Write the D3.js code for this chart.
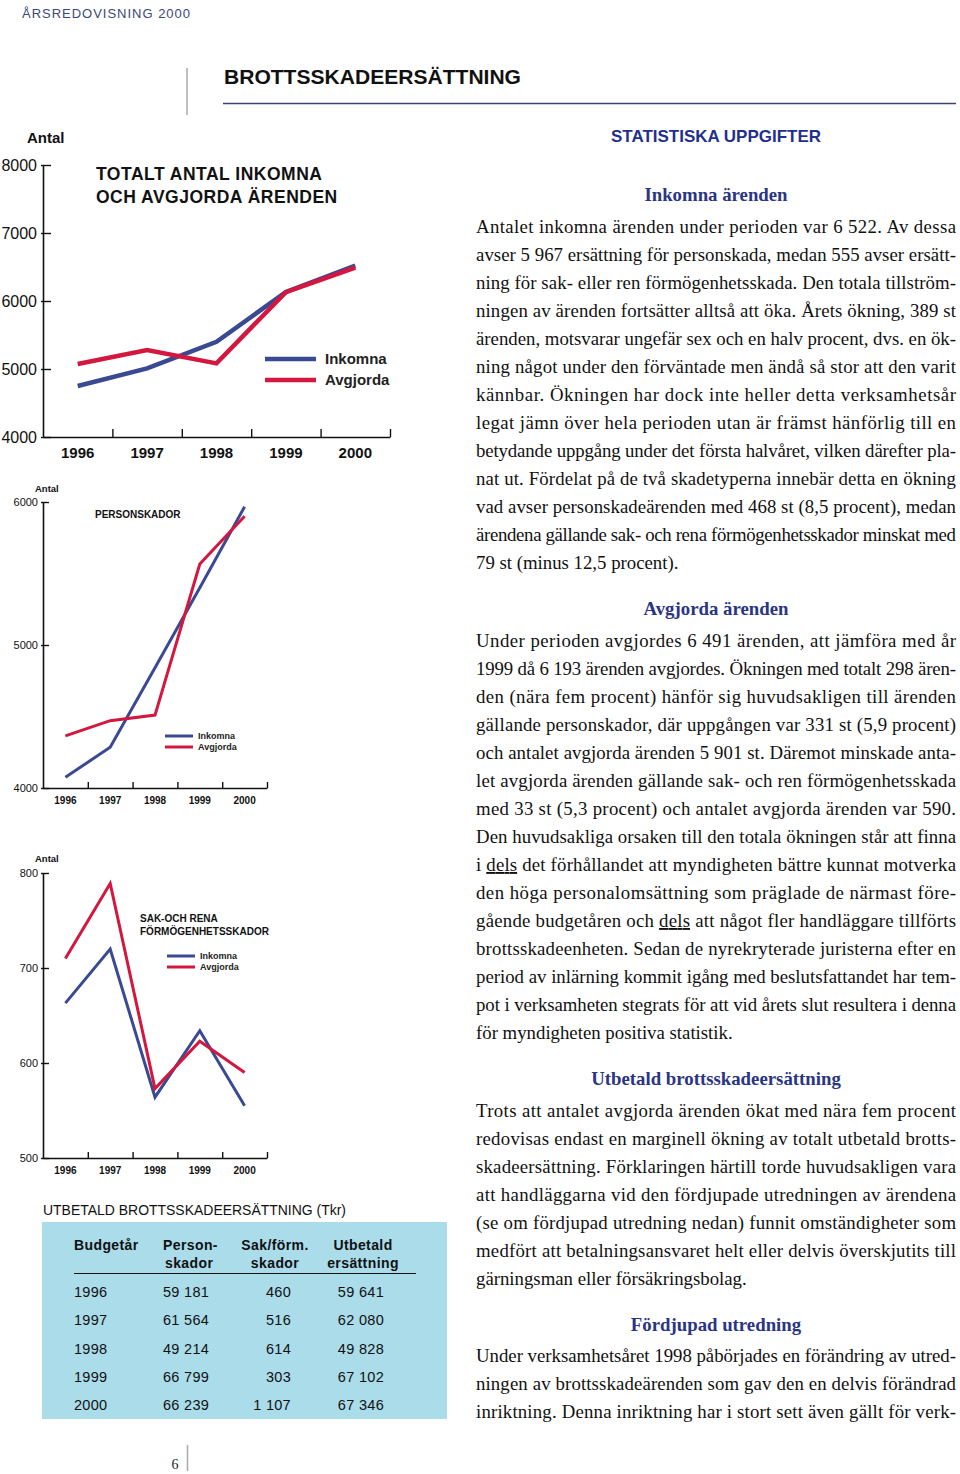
<!DOCTYPE html>
<html><head><meta charset="utf-8">
<script src="https://cdn.jsdelivr.net/npm/d3@7"></script>
<style>
html,body{margin:0;padding:0;background:#fff;}
svg{display:block;}
</style></head>
<body>
<svg id="page" width="960" height="1474"></svg>
<script>
// ---------- DATA ----------
const years = ["1996", "1997", "1998", "1999", "2000"];
const seriesNames = ["Inkomna", "Avgjorda"];
// Totalt antal inkomna och avgjorda ärenden
const totalInkomna = [4750, 5010, 5400, 6133, 6522];
const totalAvgjorda = [5074, 5279, 5083, 6130, 6491];
const totalTicks = [4000, 5000, 6000, 7000, 8000];
// Personskador
const personInkomna = [4075, 4285, 4841, 5400, 5967];
const personAvgjorda = [4364, 4471, 4510, 5566, 5901];
const personTicks = [4000, 5000, 6000];
// Sak- och rena förmögenhetsskador
const sakInkomna = [663, 720, 564, 634, 555];
const sakAvgjorda = [710, 789, 573, 623, 590];
const sakTicks = [500, 600, 700, 800];
// Utbetald brottsskadeersättning (Tkr)
const tableHeaders = [["Budgetår"], ["Person-", "skador"], ["Sak/förm.", "skador"], ["Utbetald", "ersättning"]];
const tablePerson = ["59 181", "61 564", "49 214", "66 799", "66 239"];
const tableSak = ["460", "516", "614", "303", "1 107"];
const tableTotal = ["59 641", "62 080", "49 828", "67 102", "67 346"];

const BLUE = "#3a4a92", RED = "#d3173e";
const SANS = "'Liberation Sans', Arial, Helvetica, sans-serif";
const SERIF = "'Liberation Serif', 'Times New Roman', serif";

const svg = d3.select("#page");

// ---------- PAGE HEADER ----------
svg.append("text").attr("x", 22).attr("y", 18).attr("font-family", SANS)
  .attr("font-size", 13).attr("fill", "#3c4878").attr("textLength", 168).attr("lengthAdjust", "spacing")
  .text("ÅRSREDOVISNING 2000");
svg.append("line").attr("x1", 187).attr("x2", 187).attr("y1", 68).attr("y2", 115)
  .attr("stroke", "#aaa").attr("stroke-width", 1.5);
svg.append("text").attr("x", 224).attr("y", 84).attr("font-family", SANS)
  .attr("font-size", 21).attr("font-weight", "bold").attr("fill", "#111")
  .attr("textLength", 297).attr("lengthAdjust", "spacingAndGlyphs").text("BROTTSSKADEERSÄTTNING");
svg.append("line").attr("x1", 223).attr("x2", 956).attr("y1", 103.5).attr("y2", 103.5)
  .attr("stroke", "#3a4470").attr("stroke-width", 1.5);

// ---------- CHART FUNCTION ----------
function drawChart(cfg) {
  const g = svg.append("g");
  const y = d3.scaleLinear().domain(cfg.domain).range([cfg.yBottom, cfg.yTop]);
  const xb = d3.scaleBand().domain(years).range([cfg.x0, cfg.x1]);
  const xl = d3.scaleLinear().domain([0, years.length]).range([cfg.x0, cfg.x1]);

  const ya = g.append("g").attr("transform", `translate(${cfg.x0},0)`)
    .call(d3.axisLeft(y).tickValues(cfg.ticks).tickSizeInner(-cfg.tick).tickSizeOuter(0)
      .tickPadding(cfg.tickPad).tickFormat(d3.format("d")));
  ya.select(".domain").attr("stroke", "#111").attr("stroke-width", 1.6);
  ya.selectAll(".tick line").attr("stroke", "#111").attr("stroke-width", 1.4).attr("x1", -2);
  ya.selectAll(".tick text").attr("font-family", SANS).attr("font-size", cfg.tickFont)
    .attr("fill", "#111").attr("x", -cfg.tickPad);

  const xa = g.append("g").attr("transform", `translate(0,${cfg.yBottom})`)
    .call(d3.axisBottom(xl).tickValues(d3.range(1, years.length + 1)).tickSizeInner(-cfg.tick)
      .tickSizeOuter(0).tickFormat(""));
  xa.select(".domain").attr("stroke", "#111").attr("stroke-width", 1.6);
  xa.selectAll(".tick line").attr("stroke", "#111").attr("stroke-width", 1.4);
  const xyl = g.append("g").attr("transform", `translate(0,${cfg.yBottom})`)
    .call(d3.axisBottom(xb).tickSize(0).tickPadding(cfg.yearPad));
  xyl.select(".domain").remove();
  xyl.selectAll(".tick text").attr("font-family", SANS).attr("font-size", cfg.yearFont)
    .attr("font-weight", "bold").attr("fill", "#111");

  g.append("text").attr("x", cfg.antalX).attr("y", cfg.antalY).attr("font-family", SANS)
    .attr("font-size", cfg.antalFont).attr("font-weight", "bold").attr("fill", "#111").text("Antal");

  cfg.title.forEach((t, i) => {
    g.append("text").attr("x", cfg.titleX).attr("y", cfg.titleY + i * cfg.titleLH)
      .attr("font-family", SANS).attr("font-size", cfg.titleFont).attr("font-weight", "bold")
      .attr("letter-spacing", cfg.titleLS).attr("fill", "#111").text(t);
  });

  const line = d3.line().x((d, i) => xb(years[i]) + xb.bandwidth() / 2).y(d => y(d));
  [[cfg.ink, BLUE], [cfg.avg, RED]].forEach(([data, col]) => {
    g.append("path").datum(data).attr("d", line).attr("fill", "none")
      .attr("stroke", col).attr("stroke-width", cfg.lw).attr("stroke-linejoin", "miter");
  });

  [BLUE, RED].forEach((col, i) => {
    const ly = cfg.legY + i * cfg.legGap;
    g.append("line").attr("x1", cfg.legX0).attr("x2", cfg.legX1).attr("y1", ly).attr("y2", ly)
      .attr("stroke", col).attr("stroke-width", cfg.lw);
    g.append("text").attr("x", cfg.legTX).attr("y", ly).attr("dy", "0.35em")
      .attr("font-family", SANS).attr("font-size", cfg.legFont).attr("font-weight", "bold")
      .attr("fill", "#222").text(seriesNames[i]);
  });
}

drawChart({
  domain: [4000, 8000], ticks: totalTicks, x0: 43, x1: 390, yTop: 165, yBottom: 437,
  tick: 8, tickPad: 6, tickFont: 16, yearPad: 10, yearFont: 15,
  antalX: 27, antalY: 143, antalFont: 15,
  title: ["TOTALT ANTAL INKOMNA", "OCH AVGJORDA ÄRENDEN"], titleX: 96, titleY: 180, titleLH: 23,
  titleFont: 17.5, titleLS: 0.5,
  ink: totalInkomna, avg: totalAvgjorda, lw: 4.5,
  legX0: 265, legX1: 316, legY: 359, legGap: 21, legTX: 325, legFont: 15
});

drawChart({
  domain: [4000, 6000], ticks: personTicks, x0: 43, x1: 267, yTop: 502, yBottom: 788,
  tick: 6, tickPad: 5, tickFont: 11, yearPad: 9, yearFont: 10,
  antalX: 35, antalY: 492, antalFont: 9.5,
  title: ["PERSONSKADOR"], titleX: 95, titleY: 518, titleLH: 12,
  titleFont: 10, titleLS: 0,
  ink: personInkomna, avg: personAvgjorda, lw: 3,
  legX0: 165, legX1: 193, legY: 736, legGap: 11, legTX: 198, legFont: 9
});

drawChart({
  domain: [500, 800], ticks: sakTicks, x0: 43, x1: 267, yTop: 873, yBottom: 1158,
  tick: 6, tickPad: 5, tickFont: 11, yearPad: 9, yearFont: 10,
  antalX: 35, antalY: 862, antalFont: 9.5,
  title: ["SAK-OCH RENA", "FÖRMÖGENHETSSKADOR"], titleX: 140, titleY: 922, titleLH: 12.5,
  titleFont: 10, titleLS: 0,
  ink: sakInkomna, avg: sakAvgjorda, lw: 3,
  legX0: 167, legX1: 195, legY: 956, legGap: 11, legTX: 200, legFont: 9
});

// ---------- TABLE ----------
svg.append("text").attr("x", 43).attr("y", 1215).attr("font-family", SANS).attr("font-size", 15)
  .attr("fill", "#111").attr("textLength", 303).attr("lengthAdjust", "spacingAndGlyphs")
  .text("UTBETALD BROTTSSKADEERSÄTTNING (Tkr)");
svg.append("rect").attr("x", 42).attr("y", 1222).attr("width", 405).attr("height", 197)
  .attr("fill", "#aadcea");
const hdrX = [[74, "start"], [163, "start"], [275, "middle"], [363, "middle"]];
tableHeaders.forEach((h, i) => {
  h.forEach((t, j) => {
    let x = hdrX[i][0], anchor = hdrX[i][1];
    if (i === 1 && j === 1) x = 165;
    svg.append("text").attr("x", x).attr("y", 1250 + j * 18).attr("text-anchor", anchor)
      .attr("font-family", SANS).attr("font-size", 14).attr("font-weight", "bold")
      .attr("letter-spacing", 0.4).attr("fill", "#111").text(t);
  });
});
svg.append("line").attr("x1", 74).attr("x2", 416).attr("y1", 1273.5).attr("y2", 1273.5)
  .attr("stroke", "#111").attr("stroke-width", 1.2);
const rowY = d3.scalePoint().domain(years).range([1297, 1410]);
years.forEach((yr, i) => {
  const ty = rowY(yr);
  const cells = [[yr, 74, "start"], [tablePerson[i], 163, "start"], [tableSak[i], 291, "end"], [tableTotal[i], 384, "end"]];
  cells.forEach(([t, x, a]) => {
    svg.append("text").attr("x", x).attr("y", ty).attr("text-anchor", a).attr("font-family", SANS)
      .attr("font-size", 14.5).attr("letter-spacing", 0.3).attr("fill", "#111").text(t);
  });
});

// ---------- RIGHT COLUMN TEXT ----------
svg.append("text").attr("x", 716).attr("y", 142).attr("text-anchor", "middle").attr("font-family", SANS)
  .attr("font-size", 17).attr("font-weight", "bold").attr("fill", "#1f2f8f")
  .attr("textLength", 210).attr("lengthAdjust", "spacingAndGlyphs")
  .text("STATISTISKA UPPGIFTER");

const sections = [
  { head: "Inkomna ärenden", hy: 195, y0: 227, lines: [
    "Antalet inkomna ärenden under perioden var 6 522. Av dessa",
    "avser 5 967 ersättning för personskada, medan 555 avser ersätt-",
    "ning för sak- eller ren förmögenhetsskada. Den totala tillström-",
    "ningen av ärenden fortsätter alltså att öka. Årets ökning, 389 st",
    "ärenden, motsvarar ungefär sex och en halv procent, dvs. en ök-",
    "ning något under den förväntade men ändå så stor att den varit",
    "kännbar. Ökningen har dock inte heller detta verksamhetsår",
    "legat jämn över hela perioden utan är främst hänförlig till en",
    "betydande uppgång under det första halvåret, vilken därefter pla-",
    "nat ut. Fördelat på de två skadetyperna innebär detta en ökning",
    "vad avser personskadeärenden med 468 st (8,5 procent), medan",
    "ärendena gällande sak- och rena förmögenhetsskador minskat med",
    "|79 st (minus 12,5 procent)."]},
  { head: "Avgjorda ärenden", hy: 609, y0: 641, lines: [
    "Under perioden avgjordes 6 491 ärenden, att jämföra med år",
    "1999 då 6 193 ärenden avgjordes. Ökningen med totalt 298 ären-",
    "den (nära fem procent) hänför sig huvudsakligen till ärenden",
    "gällande personskador, där uppgången var 331 st (5,9 procent)",
    "och antalet avgjorda ärenden 5 901 st. Däremot minskade anta-",
    "let avgjorda ärenden gällande sak- och ren förmögenhetsskada",
    "med 33 st (5,3 procent) och antalet avgjorda ärenden var 590.",
    "Den huvudsakliga orsaken till den totala ökningen står att finna",
    "i _dels_ det förhållandet att myndigheten bättre kunnat motverka",
    "den höga personalomsättning som präglade de närmast före-",
    "gående budgetåren och _dels_ att något fler handläggare tillförts",
    "brottsskadeenheten. Sedan de nyrekryterade juristerna efter en",
    "period av inlärning kommit igång med beslutsfattandet har tem-",
    "pot i verksamheten stegrats för att vid årets slut resultera i denna",
    "|för myndigheten positiva statistik."]},
  { head: "Utbetald brottsskadeersättning", hy: 1079, y0: 1111, lines: [
    "Trots att antalet avgjorda ärenden ökat med nära fem procent",
    "redovisas endast en marginell ökning av totalt utbetald brotts-",
    "skadeersättning. Förklaringen härtill torde huvudsakligen vara",
    "att handläggarna vid den fördjupade utredningen av ärendena",
    "(se om fördjupad utredning nedan) funnit omständigheter som",
    "medfört att betalningsansvaret helt eller delvis överskjutits till",
    "|gärningsman eller försäkringsbolag."]},
  { head: "Fördjupad utredning", hy: 1325, y0: 1356, lines: [
    "Under verksamhetsåret 1998 påbörjades en förändring av utred-",
    "ningen av brottsskadeärenden som gav den en delvis förändrad",
    "inriktning. Denna inriktning har i stort sett även gällt för verk-"]}
];

const BODY = 18.8;
sections.forEach(s => {
  svg.append("text").attr("x", 716).attr("y", s.hy + 6).attr("text-anchor", "middle")
    .attr("font-family", SERIF).attr("font-size", BODY).attr("font-weight", "bold")
    .attr("fill", "#2a3584").text(s.head);
  s.lines.forEach((ln, i) => {
    let last = ln.startsWith("|");
    if (last) ln = ln.slice(1);
    const t = svg.append("text").attr("x", 476).attr("y", s.y0 + i * 28 + 6)
      .attr("font-family", SERIF).attr("font-size", BODY).attr("fill", "#111")
      .attr("xml:space", "preserve");
    if (!last) t.attr("textLength", 480).attr("lengthAdjust", "spacing");
    ln.split("_").forEach((part, k) => {
      const ts = t.append("tspan").text(part);
      if (k % 2 === 1) ts.attr("text-decoration", "underline");
    });
  });
});

// ---------- FOOTER ----------
svg.append("text").attr("x", 175).attr("y", 1469).attr("text-anchor", "middle").attr("font-family", SERIF)
  .attr("font-size", 14).attr("fill", "#222").text("6");
svg.append("line").attr("x1", 187.5).attr("x2", 187.5).attr("y1", 1445).attr("y2", 1471)
  .attr("stroke", "#aaa").attr("stroke-width", 1.5);
</script>
</body></html>
